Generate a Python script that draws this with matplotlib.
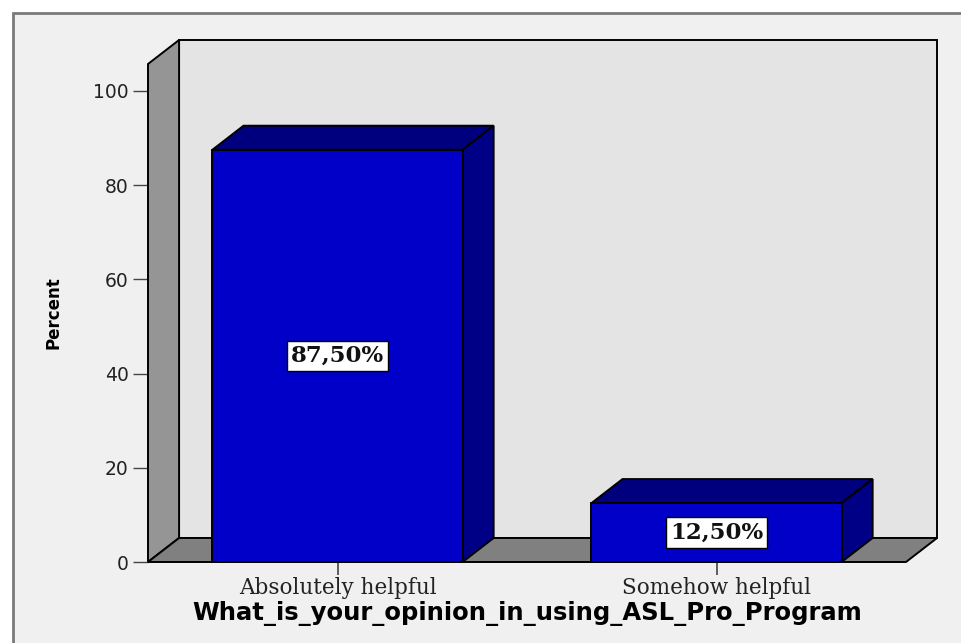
import matplotlib.pyplot as plt
from matplotlib.patches import Polygon, Rectangle

# frequencies of the answers, in percent
categories = ['Absolutely helpful', 'Somehow helpful']
percent = [87.5, 12.5]
value_labels = ['87,50%', '12,50%']
y_ticks = [0, 20, 40, 60, 80, 100]

x_pos = list(range(len(categories)))
bar_w = 0.66
x_lo, x_hi = -0.5, 1.5
y_top = 105.7
# 3-D depth of walls and bars, in data units
dx, dy = 0.082, 5.1

fig = plt.figure(figsize=(9.61, 6.43), dpi=100, facecolor='white')
fig.patches.append(Rectangle((13 / 961, -0.05), 1.0, 1 - 13 / 643 + 0.05,
                             transform=fig.transFigure, fc='#f0f0f0',
                             ec='#7a7a7a', lw=2, zorder=-1))

ax = fig.add_axes([148 / 961, 81 / 643, 758 / 961, 498 / 643])
ax.set_facecolor('none')
for s in ax.spines.values():
    s.set_visible(False)
ax.set_xlim(x_lo, x_hi)
ax.set_ylim(0, y_top)


def face(pts, color, z):
    ax.add_patch(Polygon(pts, closed=True, fc=color, ec='black', lw=1.4,
                         joinstyle='miter', clip_on=False, zorder=z))


# back wall, left wall and floor
face([(x_lo + dx, dy), (x_hi + dx, dy), (x_hi + dx, y_top + dy),
      (x_lo + dx, y_top + dy)], '#e4e4e4', 1)
face([(x_lo, 0), (x_lo + dx, dy), (x_lo + dx, y_top + dy), (x_lo, y_top)],
     '#959595', 2)
face([(x_lo, 0), (x_hi, 0), (x_hi + dx, dy), (x_lo + dx, dy)], '#808080', 2)

# bars with top and side faces
for x, h, lab in zip(x_pos, percent, value_labels):
    x0, x1 = x - bar_w / 2, x + bar_w / 2
    face([(x0, h), (x1, h), (x1 + dx, h + dy), (x0 + dx, h + dy)], '#00007f', 3)
    face([(x1, 0), (x1 + dx, dy), (x1 + dx, h + dy), (x1, h)], '#000086', 3)
    face([(x0, 0), (x1, 0), (x1, h), (x0, h)], '#0000c8', 4)
    ax.text(x, h / 2, lab, ha='center', va='center', fontsize=16.5,
            family='DejaVu Serif', fontweight='bold', color='#111111',
            zorder=6,
            bbox=dict(boxstyle='square,pad=0.18', fc='white', ec='black', lw=1))

ax.set_yticks(y_ticks)
ax.set_xticks(x_pos)
ax.set_xticklabels(categories, family='DejaVu Serif', fontsize=15.5,
                   color='#222222')
ax.tick_params(axis='y', length=11, width=1, color='#444444', pad=3,
               labelsize=13.5, labelcolor='#222222')
ax.tick_params(axis='x', length=9.5, width=1.2, color='#444444', pad=1)

ax.set_xlabel('What_is_your_opinion_in_using_ASL_Pro_Program',
              fontsize=17.5, fontweight='bold')
ax.xaxis.set_label_coords(0.5, -0.078)
ax.set_ylabel('Percent', fontsize=12, fontweight='bold')
ax.yaxis.set_label_coords(-0.113, 0.5)

fig.savefig('out.png', dpi=100, facecolor='white')
